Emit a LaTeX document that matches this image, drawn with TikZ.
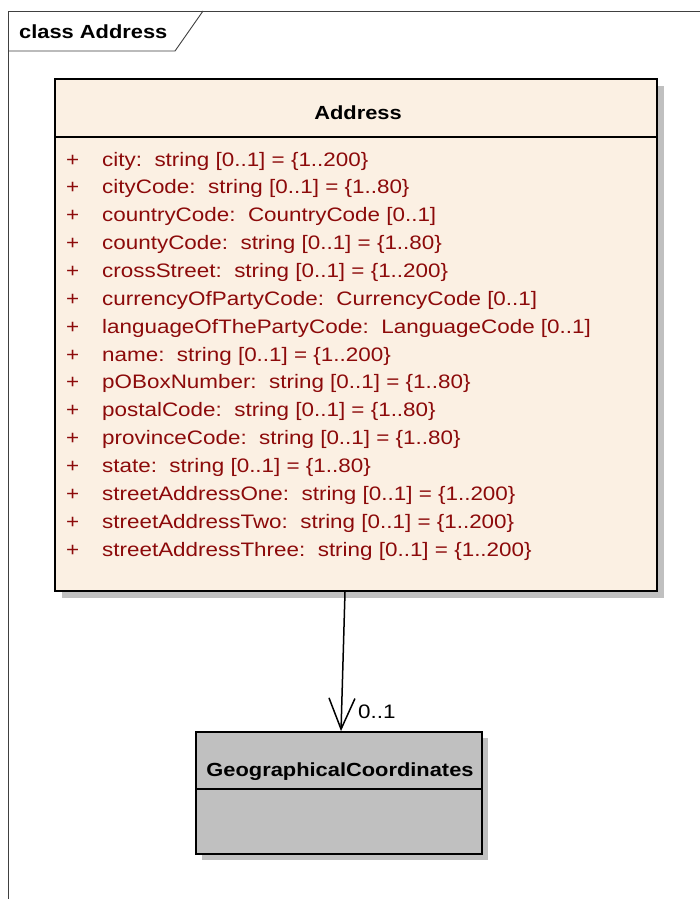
\documentclass[tikz,border=0pt]{standalone}
\usepackage{fontspec}
\setmainfont[FakeStretch=1.15]{Liberation Sans}
\usetikzlibrary{arrows.meta}
\definecolor{cream}{RGB}{251,240,227}
\definecolor{attr}{RGB}{140,10,10}
\definecolor{shade}{RGB}{192,192,192}
\tikzset{
  frameline/.style={draw=black!75, line width=0.9pt},
  classbox/.style={draw=black, line width=1.8pt, inner sep=0pt, rectangle},
  shadowbox/.style={fill=shade, draw=none},
  attrtext/.style={anchor=base west, inner sep=0pt, text=attr, font=\fontsize{19.5}{20}\selectfont},
  titletext/.style={inner sep=0pt, font=\bfseries\fontsize{19}{20}\selectfont},
  assoc/.style={draw=black, line width=1.5pt, -{Straight Barb[length=31pt,width=26pt,line width=1.5pt]}}
}
\begin{document}
\begin{tikzpicture}[x=1pt,y=-1pt]
\useasboundingbox (0,0) rectangle (700,899);
\fill[white] (0,0) rectangle (700,899);
% frame
\draw[frameline] (700,11) -- (8,11) -- (8,899);
\draw[frameline] (8,51) -- (175,51) -- (203,11);
\node[titletext, anchor=base west] (frametitle) at (19,38) {class Address};
% Address class
\fill[shadowbox] (62,86) rectangle (664,598);
\node[classbox, fill=cream, minimum width=602pt, minimum height=512pt] (addr) at (356,335) {};
\draw[black, line width=1.8pt] (55,137) -- (657,137);
\node[titletext, anchor=base] (addrtitle) at (358,119) {Address};
\foreach \i/\t in {
 0/{city:\ \ string [0..1] = \{1..200\}},
 1/{cityCode:\ \ string [0..1] = \{1..80\}},
 2/{countryCode:\ \ CountryCode [0..1]},
 3/{countyCode:\ \ string [0..1] = \{1..80\}},
 4/{crossStreet:\ \ string [0..1] = \{1..200\}},
 5/{currencyOfPartyCode:\ \ CurrencyCode [0..1]},
 6/{languageOfThePartyCode:\ \ LanguageCode [0..1]},
 7/{name:\ \ string [0..1] = \{1..200\}},
 8/{pOBoxNumber:\ \ string [0..1] = \{1..80\}},
 9/{postalCode:\ \ string [0..1] = \{1..80\}},
 10/{provinceCode:\ \ string [0..1] = \{1..80\}},
 11/{state:\ \ string [0..1] = \{1..80\}},
 12/{streetAddressOne:\ \ string [0..1] = \{1..200\}},
 13/{streetAddressTwo:\ \ string [0..1] = \{1..200\}},
 14/{streetAddressThree:\ \ string [0..1] = \{1..200\}}}{
  \node[attrtext] (plus\i) at (66,166+27.86*\i) {+};
  \node[attrtext] (attr\i) at (102,166+27.86*\i) {\t};
}
% GeographicalCoordinates class
\fill[shadowbox] (202,738) rectangle (488,860);
\node[classbox, fill=shade, minimum width=286pt, minimum height=122pt] (geo) at (339,793) {};
\draw[black, line width=1.8pt] (196,789) -- (482,789);
\node[titletext, anchor=base] (geotitle) at (340,776) {GeographicalCoordinates};
% association
\draw[assoc] ([xshift=-11pt]addr.south) -- ([xshift=2pt]geo.north);
\node[anchor=base west, inner sep=0pt, font=\fontsize{19.5}{20}\selectfont] (mult) at (358,718) {0..1};
\end{tikzpicture}
\end{document}
